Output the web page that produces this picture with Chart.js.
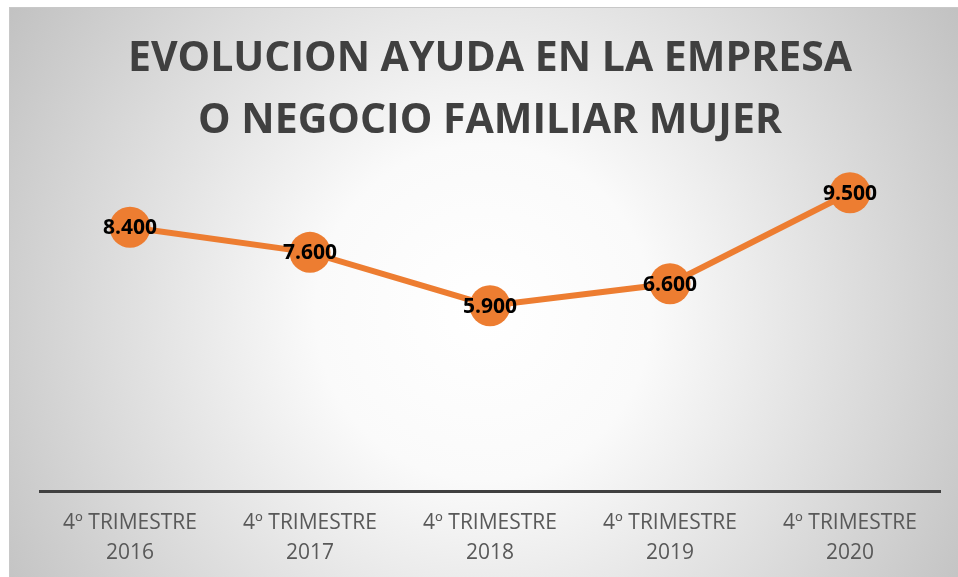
<!DOCTYPE html>
<html>
<head>
<meta charset="utf-8">
<script src="https://cdn.jsdelivr.net/npm/chart.js@4/dist/chart.umd.min.js"></script>
<style>
  html, body { margin: 0; padding: 0; background: #fff; }
  #wrap { width: 958px; height: 577px; }
</style>
</head>
<body>
<div id="wrap"><canvas id="chart-mujer" width="958" height="577"></canvas></div>
<script>
const categories = [
  ['4º TRIMESTRE', '2016'],
  ['4º TRIMESTRE', '2017'],
  ['4º TRIMESTRE', '2018'],
  ['4º TRIMESTRE', '2019'],
  ['4º TRIMESTRE', '2020']
];
const values = [8400, 7600, 5900, 6600, 9500];
const titleLines = ['EVOLUCION AYUDA EN LA EMPRESA', 'O NEGOCIO FAMILIAR MUJER'];

const orange = '#ED7D31';

// miles con punto: 8400 -> 8.400
const fmt = (v) => String(v).replace(/\B(?=(\d{3})+(?!\d))/g, '.');

const bgPlugin = {
  id: 'bg',
  beforeDraw(chart) {
    const { ctx, width, height } = chart;
    ctx.save();
    ctx.fillStyle = '#fff';
    ctx.fillRect(0, 0, width, height);
    const x0 = 9, y0 = 7;
    const cx = (x0 + width) / 2, cy = (y0 + height) / 2 + 20;
    const g = ctx.createRadialGradient(cx, cy, 0, cx, cy, 560);
    g.addColorStop(0, '#ffffff');
    g.addColorStop(0.3, '#fafafa');
    g.addColorStop(1, '#c2c2c2');
    ctx.fillStyle = g;
    ctx.fillRect(x0, y0, width - x0, height - y0);
    ctx.strokeStyle = '#c8c8c8';
    ctx.lineWidth = 1;
    ctx.strokeRect(x0 + 0.5, y0 + 0.5, width, height);
    ctx.restore();
  }
};

const labelPlugin = {
  id: 'pointLabels',
  afterDatasetsDraw(chart) {
    const { ctx } = chart;
    const meta = chart.getDatasetMeta(0);
    ctx.save();
    ctx.font = 'bold 21px "Open Sans"';
    ctx.fillStyle = '#000';
    ctx.textAlign = 'center';
    ctx.textBaseline = 'middle';
    meta.data.forEach((pt, i) => {
      ctx.fillText(fmt(values[i]), pt.x, pt.y + 1);
    });
    ctx.restore();
  }
};

const config = {
  type: 'line',
  data: {
    labels: categories,
    datasets: [{
      data: values,
      borderColor: orange,
      backgroundColor: orange,
      borderWidth: 6,
      pointRadius: 20.5,
      pointHoverRadius: 20.5,
      pointBorderWidth: 0,
      pointBackgroundColor: orange,
      tension: 0,
      clip: false
    }]
  },
  options: {
    responsive: false,
    animation: false,
    layout: { autoPadding: false, padding: { left: 40, right: 18, top: 0, bottom: 0 } },
    plugins: {
      legend: { display: false },
      tooltip: { enabled: false },
      title: {
        display: true,
        text: titleLines,
        color: '#404040',
        font: { family: '"Open Sans"', size: 41, weight: 'bold', lineHeight: 1.5 },
        padding: { top: 29, bottom: 25 }
      }
    },
    scales: {
      x: {
        offset: true,
        grid: { display: false, drawTicks: false },
        border: { display: true, color: '#404040', width: 3 },
        ticks: {
          color: '#595959',
          padding: 17,
          maxRotation: 0,
          autoSkip: false,
          font: { family: '"Open Sans"', size: 21, lineHeight: 1.43 }
        },
        afterFit: (scale) => {
          scale.height = 86;
          scale.paddingLeft = 0;
          scale.paddingRight = 0;
        }
      },
      y: {
        display: false,
        min: 0,
        max: 10000
      }
    }
  },
  plugins: [bgPlugin, labelPlugin]
};

let chartMujer = new Chart(document.getElementById('chart-mujer'), config);
</script>
</body>
</html>
